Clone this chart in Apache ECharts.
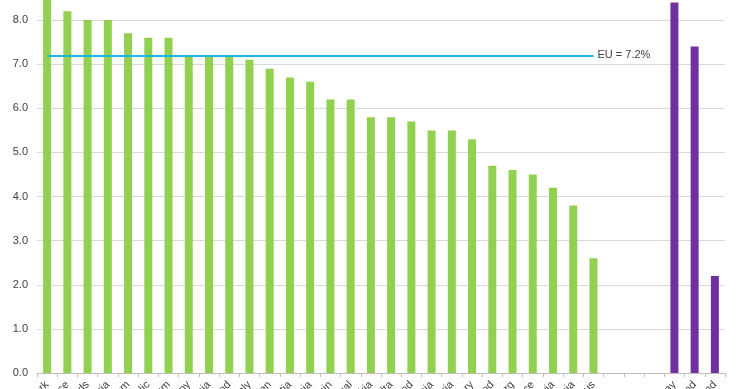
<!DOCTYPE html>
<html><head><meta charset="utf-8">
<script src="https://cdn.jsdelivr.net/npm/echarts@6/dist/echarts.min.js"></script>
<style>html,body{margin:0;padding:0;background:#fff}#c{width:740px;height:389px}</style>
</head><body><div id="c"></div>
<script>
const categories = ["Denmark","France","Netherlands","Austria","United Kingdom","Czech Republic","Belgium","Germany","Slovenia","Finland","Italy","Sweden","Croatia","Lithuania","Spain","Portugal","Slovakia","Malta","Poland","Estonia","Bulgaria","Hungary","Ireland","Luxembourg","Greece","Latvia","Romania","Cyprus","","","","Norway","Iceland","Switzerland"];
const euValues = [8.8,8.2,8.0,8.0,7.7,7.6,7.6,7.2,7.2,7.2,7.1,6.9,6.7,6.6,6.2,6.2,5.8,5.8,5.7,5.5,5.5,5.3,4.7,4.6,4.5,4.2,3.8,2.6,null,null,null,null,null,null];
const nonEuValues = [null,null,null,null,null,null,null,null,null,null,null,null,null,null,null,null,null,null,null,null,null,null,null,null,null,null,null,null,null,null,null,8.4,7.4,2.2];
const euAverage = 7.2;
const euLabel = "EU = 7.2%";
const yTicks = {min:0, max:9, interval:1};

const chart = echarts.init(document.getElementById('c'), null, {renderer:'canvas'});
chart.setOption({
  animation:false,
  grid:{left:37, right:15, top:-24, bottom:16, containLabel:false, outerBoundsMode:'none'},
  xAxis:{type:'category', data:categories,
    axisLine:{lineStyle:{color:'#bfbfbf'}},
    axisTick:{show:true, alignWithLabel:false, lineStyle:{color:'#bfbfbf'}, length:4},
    axisLabel:{rotate:45, interval:0, color:'#404040', fontSize:11, fontFamily:'Liberation Sans, Arial', margin:10}
  },
  yAxis:{type:'value', min:yTicks.min, max:yTicks.max, interval:yTicks.interval,
    axisLine:{show:false}, axisTick:{show:false},
    splitLine:{lineStyle:{color:'#d9d9d9', width:1}},
    axisLabel:{color:'#404040', fontSize:11, fontFamily:'Liberation Sans, Arial', margin:9, formatter:v=>v.toFixed(1)}
  },
  series:[
    {type:'bar', data:euValues, barWidth:8, itemStyle:{color:'#92d050'}, barGap:'-100%',
      markLine:{silent:true, symbol:'none',
        lineStyle:{color:'#1eb4e6', width:2, type:'solid'},
        label:{show:true, position:'end', formatter:euLabel, color:'#404040', fontSize:11, fontFamily:'Liberation Sans, Arial', distance:4},
        data:[[{coord:[0,euAverage]},{coord:[27,euAverage]}]]
      }
    },
    {type:'bar', data:nonEuValues, barWidth:8, itemStyle:{color:'#7030a0'}, barGap:'-100%'}
  ]
});
</script></body></html>
